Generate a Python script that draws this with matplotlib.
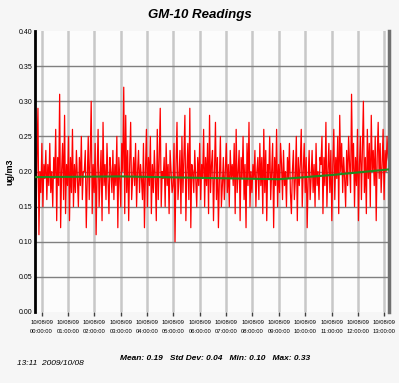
import numpy as np
import matplotlib
matplotlib.use("AGG")
import matplotlib.pyplot as plt

plt.rcParams['font.family'] = ['Liberation Sans', 'DejaVu Sans']

# 読み取り値（ug/m3）、23:45 から 13:11 まで等間隔
readings = [
    0.25, 0.11, 0.22, 0.29, 0.11, 0.20, 0.17, 0.24, 0.15, 0.21,
    0.19, 0.23, 0.16, 0.21, 0.18, 0.24, 0.17, 0.20, 0.15, 0.22,
    0.19, 0.26, 0.13, 0.22, 0.18, 0.31, 0.12, 0.20, 0.24, 0.16,
    0.28, 0.14, 0.21, 0.18, 0.25, 0.13, 0.22, 0.17, 0.26, 0.15,
    0.21, 0.17, 0.23, 0.19, 0.15, 0.22, 0.18, 0.25, 0.16, 0.20,
    0.20, 0.23, 0.12, 0.19, 0.25, 0.16, 0.22, 0.30, 0.14, 0.21,
    0.17, 0.24, 0.11, 0.20, 0.26, 0.15, 0.19, 0.23, 0.13, 0.27,
    0.18, 0.21, 0.16, 0.24, 0.19, 0.14, 0.22, 0.20, 0.17, 0.23,
    0.16, 0.21, 0.18, 0.25, 0.12, 0.22, 0.19, 0.15, 0.24, 0.20,
    0.32, 0.14, 0.28, 0.17, 0.23, 0.13, 0.21, 0.27, 0.16, 0.19,
    0.22, 0.18, 0.24, 0.15, 0.20, 0.23, 0.17, 0.21, 0.19, 0.16,
    0.24, 0.12, 0.20, 0.26, 0.15, 0.22, 0.18, 0.25, 0.14, 0.21,
    0.17, 0.23, 0.19, 0.13, 0.26, 0.16, 0.22, 0.29, 0.15, 0.20,
    0.19, 0.22, 0.15, 0.24, 0.18, 0.21, 0.14, 0.23, 0.20, 0.17,
    0.18, 0.24, 0.10, 0.21, 0.27, 0.16, 0.19, 0.23, 0.14, 0.25,
    0.17, 0.22, 0.28, 0.13, 0.20, 0.24, 0.16, 0.29, 0.12, 0.21,
    0.20, 0.17, 0.23, 0.19, 0.15, 0.22, 0.18, 0.24, 0.16, 0.21,
    0.19, 0.26, 0.15, 0.22, 0.18, 0.24, 0.14, 0.28, 0.17, 0.21,
    0.23, 0.13, 0.20, 0.27, 0.16, 0.22, 0.12, 0.19, 0.25, 0.15,
    0.18, 0.22, 0.16, 0.20, 0.24, 0.17, 0.21, 0.15, 0.23, 0.19,
    0.21, 0.18, 0.24, 0.14, 0.26, 0.17, 0.20, 0.23, 0.13, 0.22,
    0.19, 0.25, 0.16, 0.21, 0.12, 0.24, 0.18, 0.27, 0.15, 0.20,
    0.17, 0.21, 0.19, 0.23, 0.15, 0.20, 0.22, 0.16, 0.24, 0.18,
    0.22, 0.14, 0.26, 0.17, 0.23, 0.13, 0.21, 0.19, 0.25, 0.16,
    0.20, 0.24, 0.12, 0.22, 0.18, 0.26, 0.15, 0.21, 0.17, 0.24,
    0.21, 0.16, 0.23, 0.18, 0.20, 0.15, 0.22, 0.19, 0.24, 0.17,
    0.14, 0.20, 0.23, 0.16, 0.19, 0.25, 0.13, 0.22, 0.18, 0.21,
    0.26, 0.15, 0.20, 0.24, 0.17, 0.22, 0.12, 0.19, 0.23, 0.16,
    0.19, 0.23, 0.17, 0.21, 0.15, 0.24, 0.18, 0.20, 0.16, 0.22,
    0.21, 0.25, 0.14, 0.22, 0.18, 0.27, 0.15, 0.20, 0.24, 0.17,
    0.23, 0.13, 0.21, 0.26, 0.16, 0.22, 0.19, 0.25, 0.14, 0.28,
    0.20, 0.24, 0.17, 0.22, 0.19, 0.15, 0.23, 0.18, 0.25, 0.21,
    0.17, 0.31, 0.20, 0.24, 0.15, 0.22, 0.18, 0.26, 0.13, 0.21,
    0.25, 0.16, 0.23, 0.30, 0.17, 0.22, 0.14, 0.26, 0.19, 0.24,
    0.15, 0.28, 0.20, 0.23, 0.18, 0.25, 0.13, 0.22, 0.27, 0.19,
    0.24, 0.17, 0.21, 0.26, 0.16, 0.23, 0.20, 0.25, 0.22, 0.21,
]
t_start, t_end = -0.25, 13.18  # 時刻（時）
trend_hours = [-0.25, 3.0, 6.0, 9.0, 11.0, 13.18]
trend_values = [0.192, 0.193, 0.191, 0.189, 0.195, 0.203]

tick_hours = list(range(14))
tick_labels = ["10/08/09\n%02d:00:00" % h for h in tick_hours]
ytick_values = [0.00, 0.05, 0.10, 0.15, 0.20, 0.25, 0.30, 0.35, 0.40]

fig = plt.figure(figsize=(3.99, 3.83), dpi=100, facecolor="#f6f6f6")
ax = fig.add_axes([0.0877, 0.1854, 0.8873, 0.7336], facecolor="#fcfcfc")

hours = np.linspace(t_start, t_end, len(readings))

for h in tick_hours:
    ax.axvline(h, color="#c8c8c8", lw=1.8, zorder=1)
for v in ytick_values[1:-1]:
    ax.axhline(v, color="#808080", lw=1.0, zorder=1)

ax.plot(hours, readings, color="#ff0000", lw=0.9, zorder=2)
ax.plot(trend_hours, trend_values, color="#1f8a1f", lw=1.5, zorder=3)

ax.set_xlim(t_start, t_end)
ax.set_ylim(0, 0.40)
ax.set_xticks(tick_hours)
ax.set_xticklabels(tick_labels, fontsize=4.2, linespacing=1.9)
ax.set_yticks(ytick_values)
ax.set_yticklabels(["%.2f" % v for v in ytick_values], fontsize=5)
ax.tick_params(axis="x", length=3, width=1, color="#404040", pad=3)
ax.tick_params(axis="y", length=0, pad=2)

for s in ("top", "bottom"):
    ax.spines[s].set_visible(False)
ax.spines["left"].set_color("black")
ax.spines["left"].set_linewidth(2)
ax.spines["right"].set_color("#707070")
ax.spines["right"].set_linewidth(2.5)

ax.set_ylabel("ug/m3", fontsize=6.5, fontweight="bold", labelpad=3)

fig.text(0.502, 0.962, "GM-10 Readings", ha="center", va="center",
         fontsize=9.5, fontweight="bold", fontstyle="italic")
fig.text(0.043, 0.052, "13:11  2009/10/08", ha="left", va="center",
         fontsize=6, fontstyle="italic")
fig.text(0.30, 0.065, "Mean: 0.19   Std Dev: 0.04   Min: 0.10   Max: 0.33",
         ha="left", va="center", fontsize=6, fontweight="bold", fontstyle="italic")

fig.savefig("out.png", dpi=100, facecolor=fig.get_facecolor())
